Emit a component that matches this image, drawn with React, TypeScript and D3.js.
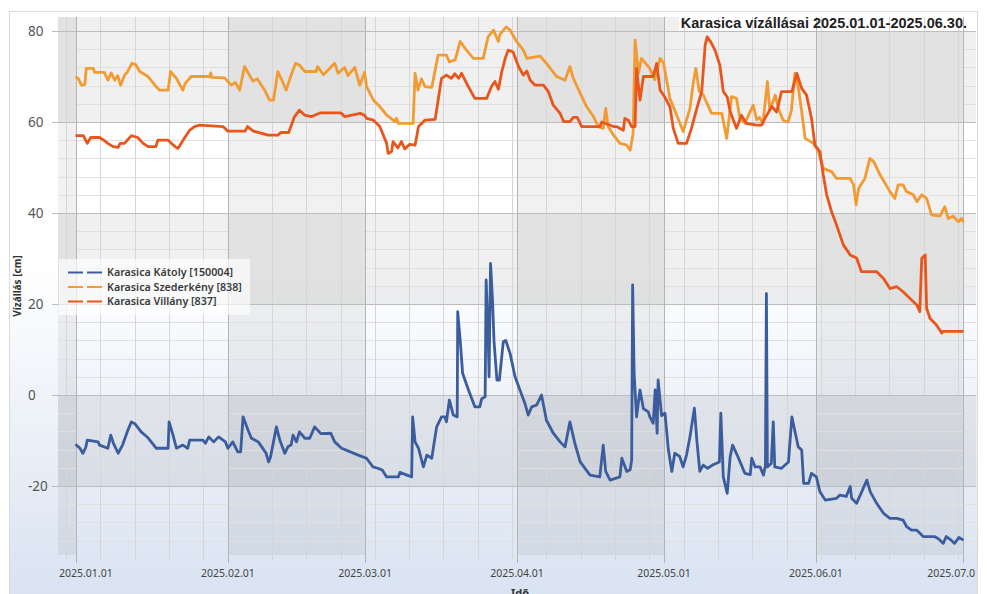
import React from 'react';
import * as d3 from 'd3';

// ---------- data (day offset from 2025-01-01, water level in cm) ----------
const seriesNames = ['Karasica Kátoly [150004]', 'Karasica Szederkény [838]', 'Karasica Villány [837]'];
const seriesColors = ['#3b5d9d', '#f29b33', '#e9561c'];

const katoly: [number, number][] = [
  [-0.1,-10.8],[0.8,-11.7],[1.4,-12.8],[2,-11.5],[2.3,-9.9],[4.5,-10.3],[4.8,-11],[6.5,-11.7],[7.1,-8.8],[7.6,-10.5],[8.6,-12.8],[9.5,-11],[10.6,-7.7],[11.3,-5.9],[12,-6.3],[13.3,-8.1],[14.7,-9.4],[16.4,-11.7],[18.8,-11.7],[19,-5.9],[19.8,-8.8],[20.5,-11.7],[21.8,-11],[22.8,-11.7],[23.2,-9.9],[25.9,-9.9],[26.4,-10.6],[27.1,-9.2],[28.1,-10.3],[29.1,-9.2],[30.5,-10.3],[31,-11.7],[32,-10.3],[33,-12.5],[33.6,-12.5],[34.1,-4.8],[35.1,-7.7],[35.8,-9.5],[37.2,-10.3],[38.8,-12.8],[39.3,-14.7],[39.7,-13.6],[40.9,-7],[41.6,-9.9],[42.6,-12.8],[43.3,-11.3],[43.9,-11],[44.3,-8.8],[45,-10.3],[45.6,-8.1],[46.7,-9.5],[47.7,-9.5],[48.7,-7],[50,-8.5],[52,-8.4],[52.8,-10.3],[54.2,-11.7],[57.6,-13.2],[59.3,-13.9],[60.6,-15.8],[61.6,-16.1],[62.5,-16.5],[63.4,-18],[65.8,-18],[66.1,-17],[68.5,-18],[68.7,-4.8],[69.2,-10.3],[69.9,-11.7],[70.9,-15.8],[71.6,-13.2],[72.6,-13.9],[73.6,-7],[74.6,-4.8],[75.3,-4.8],[75.6,-5.9],[76.2,-1.1],[77,-4.4],[77.8,-4.8],[77.9,18.3],[78.4,12.1],[78.9,4.8],[80.1,1.1],[81.4,-2.6],[82.4,-2.6],[82.8,-0.8],[83.5,-0.4],[83.7,25.3],[84.1,13.6],[84.3,4],[84.6,28.9],[85,21],[85.3,12],[85.9,3.3],[86.4,3.3],[87.2,11.7],[87.7,12],[88.6,9.1],[89.6,4],[90.6,1.1],[91.6,-1.8],[92.3,-4.4],[93,-2.6],[94,-2.2],[95,0],[96,-5.5],[97.4,-8.4],[98.8,-10.3],[99.8,-11.4],[100.8,-5.9],[101.8,-10.6],[102.9,-14.7],[104.9,-17.6],[106.9,-18],[107.6,-11],[108.1,-16.8],[109,-18.7],[111,-18],[111.4,-13.9],[112.4,-16.8],[113.1,-16.4],[113.4,-14.3],[113.6,24.2],[113.9,4.8],[114.4,-4.8],[115.1,1.1],[115.8,-3],[116.8,-3.7],[117.1,-4.8],[117.8,-6.2],[118.2,1.1],[118.6,-8.4],[118.8,3.3],[119.5,-4.5],[120.2,-4],[120.9,-12.1],[121.6,-16.8],[122.2,-12.8],[123.2,-13.5],[123.9,-15.8],[124.6,-13.2],[125.3,-9.2],[126.2,-2.9],[126.7,-9.9],[127.3,-16.8],[128,-15.4],[128.9,-16.1],[129.9,-15.4],[131.3,-14.7],[131.6,-4],[132.1,-18],[132.9,-21.6],[133.5,-13.6],[134,-11],[135.1,-13.6],[136.5,-17.2],[137.6,-17.5],[137.9,-13.9],[138.6,-15.8],[139.6,-15.8],[140.3,-17.6],[140.7,-15.5],[140.9,22.3],[141.1,-15.8],[141.9,-15],[142.3,-5.9],[142.6,-15.8],[144,-16.1],[144.7,-15.4],[145.4,-14.7],[146.1,-4.8],[146.8,-8.4],[147.4,-11.4],[148.1,-12.1],[148.5,-19.4],[149.5,-19.4],[150.1,-17.2],[151.1,-18],[151.8,-21.2],[152.9,-23.1],[155.2,-22.7],[155.9,-22],[157.2,-22.3],[158,-20.1],[158.3,-22.7],[159.3,-23.8],[160.5,-20.9],[161.4,-18.7],[162.1,-21.3],[163.4,-23.8],[164.8,-26],[166.1,-27.1],[167.5,-27.1],[168.8,-27.5],[169.5,-28.9],[170.5,-29.7],[171.6,-29.7],[172.9,-31.1],[175.2,-31.1],[176,-31.6],[177,-32.6],[177.6,-31.1],[178.6,-31.9],[179.3,-32.6],[180.2,-31.3],[181.1,-31.9],
];

const szederkeny: [number, number][] = [
  [-0.1,70],[0.5,69.5],[1.1,68.1],[1.8,68.2],[2.1,71.8],[3.5,71.8],[3.8,70.9],[5.8,70.9],[6.5,69.2],[7.2,70.8],[7.9,69.2],[8.5,70.2],[9.1,68.1],[9.9,70.3],[10.5,71],[11.4,72.9],[12.2,72.6],[13,71.1],[14.7,70],[16.1,68.1],[17.1,67],[18.8,67],[19.3,71.1],[20.5,69.6],[21.8,67],[22.3,68.5],[23.5,70],[27.3,70],[27.5,70.8],[27.7,69.8],[30.3,69.7],[31.7,68.1],[32.5,68.7],[33.4,67],[34.4,72.2],[35.4,70.3],[36.1,69],[37,69.5],[38.5,67],[39.5,64.8],[40.3,64.8],[41.2,71.1],[42,69.2],[42.9,67],[43.9,70.3],[44.8,72.9],[45.6,72.5],[46.7,71.1],[49,71.1],[49.3,72.2],[50.5,70.4],[52.8,72.9],[53.5,70.7],[54.8,72],[55.5,70.2],[56.9,72],[57.9,68.1],[58.9,70.9],[59.3,67.8],[60.7,64.8],[62,63.4],[63.4,61.5],[65.1,60.1],[65.4,60.8],[65.8,59.7],[68.8,59.7],[69.2,70.7],[69.8,67],[70.5,69.5],[71.2,67.8],[72.6,67.6],[73.9,74.7],[75.6,74.7],[76.2,73.2],[77.4,73.7],[78.4,77.7],[79.7,75.8],[81.1,74],[83.1,74],[84.1,78.7],[85.2,80.2],[86.2,77.7],[86.5,79.2],[87.8,80.9],[88.6,80.2],[89.9,77.7],[91.3,75.8],[92,74],[94.7,74.5],[96,72.9],[98.1,70],[99.8,69.2],[100.8,72.2],[101.5,69.6],[102.9,66.3],[104.2,63.4],[105.6,61.2],[106.6,59],[107.6,58.6],[108.1,63],[108.6,59],[109.7,57.1],[111,55.3],[112.3,55],[113.1,53.8],[113.7,57.5],[114.1,78],[114.8,70.7],[115.4,74],[117.1,71.8],[118.1,69.3],[119.2,74],[119.9,73],[121.2,65.2],[122.6,61.5],[123.9,57.9],[125.3,63],[126,68.9],[126.5,71.8],[127.2,66.7],[128,66],[129.7,61.9],[131.8,61.9],[132.8,56.4],[133.8,65.6],[134.8,65.2],[135.5,60.8],[136.5,59.7],[138.2,63.7],[138.9,60.5],[139.5,61],[140.2,59.7],[141.1,68.9],[141.6,62.6],[142.7,65.9],[143.4,62.8],[144.3,60.4],[145.3,60],[146,62.5],[146.7,70.7],[147.4,67.7],[148.1,62.3],[148.8,56.4],[150.5,55.3],[151.5,53.5],[152.5,49.8],[154.2,49.1],[155.2,47.6],[158,47.6],[158.7,46.2],[159.2,41.8],[159.7,45.4],[161,47.6],[162,52],[162.8,51.3],[164.1,48.4],[166.1,44.7],[167.1,43.2],[167.8,46.2],[168.8,46.2],[169.5,44.7],[170.9,44],[171.6,42.5],[172.6,44],[173.6,43.2],[174.6,39.6],[176.3,39.3],[177.3,41.4],[178,38.8],[179,39.3],[180.1,38.1],[180.7,38.8],[181.1,38],
];

const villany: [number, number][] = [
  [-0.1,57],[1.5,57],[2.3,55.3],[3,56.6],[4.8,56.6],[5.8,55.9],[6.5,55.3],[7.6,54.6],[8.6,54.4],[9,55.3],[9.9,55.3],[11.3,57],[12.6,56.6],[13.7,55.3],[14.7,54.6],[16.3,54.6],[16.7,56],[18.8,56],[19.5,55.3],[20.2,54.6],[20.8,54.2],[22.2,56.6],[23.2,58.2],[24.2,59],[25.2,59.3],[30,59],[31,58],[34.5,58],[35,59],[36.2,58],[39.2,57.1],[41.2,57.1],[41.8,57.7],[43.4,57.7],[44.6,61.2],[45.6,62.6],[46.7,61.5],[48.1,61.2],[49.8,62],[54.1,62],[54.8,61.2],[58,61.9],[58.9,61.5],[59.3,60.8],[60.7,60.4],[62,59],[63.4,55.3],[63.7,53.1],[64.4,53.5],[64.7,55.7],[65.7,54.3],[66.4,55.7],[67.1,54.1],[68.1,55.1],[69.2,54.9],[69.9,59],[71.2,60.4],[73.3,60.6],[74.6,69.6],[75.6,70.3],[76.6,69.6],[77.3,70.6],[78.1,69.6],[78.7,70.7],[79.9,68.1],[81.4,65.2],[83.8,65.2],[84.8,67.8],[85.5,68.9],[86.2,67.2],[86.9,71.1],[87.6,74],[88.2,75.8],[89.2,75.4],[90.3,72.2],[91.3,70.3],[92,71.2],[92.7,69.2],[93.7,68.1],[95.4,68.1],[96.4,66.7],[97.4,63.7],[98.8,61.9],[99.5,60.1],[100.8,60.1],[101.5,61],[102.3,61],[103.2,59],[106.9,59],[107.3,60],[109.7,59],[110.3,59],[111.7,58.2],[112,60.8],[112.7,60.4],[113.4,59],[114.1,59],[114.4,71.8],[115.1,64.8],[115.8,70],[117.8,70],[118.5,72.9],[119.2,67],[120.1,65.6],[121.2,63.4],[121.9,58.6],[122.9,55.3],[124.6,55.3],[125.6,58.6],[126.7,63],[127.7,66.7],[128.4,76.9],[128.8,78.7],[129.6,77.5],[130.4,75.8],[131.4,72.5],[132.1,66.7],[132.9,65.5],[133.5,62.3],[134.8,58.6],[135.8,61.5],[136.8,59.7],[138.9,59.3],[139.9,59.3],[140.6,60.8],[142,63.4],[143,62.2],[144,66.7],[146.1,66.7],[147.1,70.7],[148.1,67.4],[149.1,65.9],[150.1,60.8],[150.8,54.9],[151.8,53.5],[152.5,48.4],[153.2,44],[154.2,40.3],[155.2,37.4],[156.6,33],[158,30.8],[159.3,30.1],[160.3,27.1],[163.4,27.1],[164.8,25.6],[166.1,23.4],[167.5,23.8],[168.8,22.7],[170.2,21.2],[171.6,19.8],[172.2,18.3],[172.6,30],[173.3,30.8],[173.6,19],[174.3,16.8],[175.6,15.4],[176.7,13.6],[176.9,14],[181.1,14],
];

const yTicks = [-20, 0, 20, 40, 60, 80];
const xTickLabels = ['2025.01.01', '2025.02.01', '2025.03.01', '2025.04.01', '2025.05.01', '2025.06.01', '2025.07.01'];
const titleText = 'Karasica vízállásai 2025.01.01-2025.06.30.';
const yTitle = 'Vízállás [cm]';
const xTitle = 'Idő';

// ---------- layout ----------
const W = 987, H = 594;
const L = 58, R = 976, T = 17, B = 555;
const t0 = Date.UTC(2025, 0, 1);
const DAY = 864e5;
const toDate = (d: number) => new Date(t0 + d * DAY);

const x = d3.scaleUtc().domain([toDate(-3.673), toDate(183.673)]).range([L, R]);
const y = d3.scaleLinear().domain([-35.16, 83.08]).range([B, T]);

const months = d3.utcMonth.range(toDate(-40), toDate(200));
const monthTicks = months.filter(m => +m >= +x.domain()[0] && +m <= +x.domain()[1]);
const weekTicks = d3.utcMonday.range(x.domain()[0], x.domain()[1])
  .filter(d => !(d.getUTCMonth() === 1 && d.getUTCDate() === 3));
const minorY = d3.range(-32, 84, 4).filter(v => v % 20 !== 0);

const line = d3.line<[number, number]>()
  .x(d => x(toDate(d[0])))
  .y(d => y(d[1]));

const series = [katoly, szederkeny, villany];
const font = '"Noto Sans", "Open Sans", sans-serif';
const px = (v: number) => Math.round(v) + 0.5;

export default function App() {
  const hBands = [[-20, 0], [20, 40], [60, 83.08]];
  return (
    <svg width={W} height={H} style={{ position: 'absolute', left: 0, top: 0, display: 'block' }}>
      <defs>
        <linearGradient id="bg" x1="0" y1="0" x2="0" y2="1">
          <stop offset="0" stopColor="#ffffff" />
          <stop offset="0.42" stopColor="#ffffff" />
          <stop offset="1" stopColor="#d8e2f1" />
        </linearGradient>
        <clipPath id="plotclip"><rect x={L} y={T} width={R - L} height={B - T} /></clipPath>
        <clipPath id="labelclip"><rect x={0} y={0} width={R} height={H} /></clipPath>
      </defs>
      <rect x={0} y={0} width={W} height={H} fill="#ffffff" />
      <rect x={9.5} y={11.5} width={968} height={H} fill="url(#bg)" stroke="#dadada" />

      {/* bands */}
      <g clipPath="url(#plotclip)">
        {hBands.map(([a, b], i) => (
          <rect key={'h' + i} x={L} y={y(b)} width={R - L} height={y(a) - y(b)} fill="rgba(0,0,0,0.058)" />
        ))}
        {months.filter(m => m.getUTCMonth() % 2 === 1 || m.getUTCMonth() === 11).map((m, i) => {
          const x0 = Math.max(L, x(m));
          const x1 = Math.min(R, x(d3.utcMonth.offset(m, 1)));
          if (x1 <= x0) return null;
          return <rect key={'v' + i} x={x0} y={T} width={x1 - x0} height={B - T} fill="rgba(0,0,0,0.055)" />;
        })}
      </g>
      {/* title background */}
      <rect x={679} y={T} width={R - 679} height={14} fill="#ffffff" />

      {/* grid */}
      <g shapeRendering="crispEdges">
        {minorY.map(v => (
          <line key={'my' + v} x1={L} x2={R} y1={px(y(v))} y2={px(y(v))} stroke="#e0e0e0" />
        ))}
        {weekTicks.map(d => (
          <line key={'w' + +d} x1={px(x(d))} x2={px(x(d))} y1={T} y2={560} stroke="#d6d6d6" />
        ))}
        {yTicks.map(v => (
          <line key={'y' + v} x1={52} x2={R} y1={px(y(v))} y2={px(y(v))} stroke="#bdbdbd" />
        ))}
        {monthTicks.map(d => (
          <line key={'m' + +d} x1={px(x(d))} x2={px(x(d))} y1={T} y2={563} stroke="#b4b4b4" />
        ))}
      </g>

      {/* series */}
      <g clipPath="url(#plotclip)">
        {series.map((s, i) => (
          <path key={i} d={line(s) || ''} fill="none" stroke={seriesColors[i]} strokeWidth={2.8} strokeLinejoin="round" />
        ))}
      </g>

      {/* y tick labels */}
      {yTicks.map(v => (
        <text key={'yl' + v} x={28} y={y(v) + 5} fontFamily={font} fontSize={13.5} fill="#555">{v}</text>
      ))}

      {/* x tick labels */}
      <g clipPath="url(#labelclip)">
        {monthTicks.map((d, i) => {
          const cx = x(d);
          let anchor: 'start' | 'middle' | 'end' = 'middle';
          let tx = cx;
          if (i === 0) { anchor = 'start'; tx = L + 1; }
          if (i === monthTicks.length - 1) { anchor = 'end'; tx = 981; }
          return (
            <text key={'xl' + i} x={tx} y={577} textAnchor={anchor} fontFamily={font} fontSize={10.5} fill="#444">
              {xTickLabels[i]}
            </text>
          );
        })}
      </g>

      {/* axis titles */}
      <text x={520} y={597} textAnchor="middle" fontFamily={font} fontSize={11} fontWeight="bold" fill="#333">{xTitle}</text>
      <text transform={`translate(21,${(T + B) / 2}) rotate(-90)`} textAnchor="middle" fontFamily={font} fontSize={10} fontWeight="bold" fill="#333">{yTitle}</text>

      {/* title */}
      <text x={967} y={28} textAnchor="end" fontFamily='"Liberation Sans", Arial, sans-serif' fontSize={14.5} fontWeight="bold" fill="#222">{titleText}</text>

      {/* legend */}
      <rect x={59} y={259} width={191} height={56} fill="rgba(255,255,255,0.65)" />
      {seriesNames.map((n, i) => {
        const ly = 272.5 + i * 14.5;
        return (
          <g key={'lg' + i}>
            <line x1={68} x2={102} y1={ly} y2={ly} stroke={seriesColors[i]} strokeWidth={2} strokeDasharray="15,4" />
            <text x={107} y={ly + 3.8} fontFamily={font} fontSize={10.7} fontWeight={600} fill="#3a3a3a">{n}</text>
          </g>
        );
      })}
    </svg>
  );
}
